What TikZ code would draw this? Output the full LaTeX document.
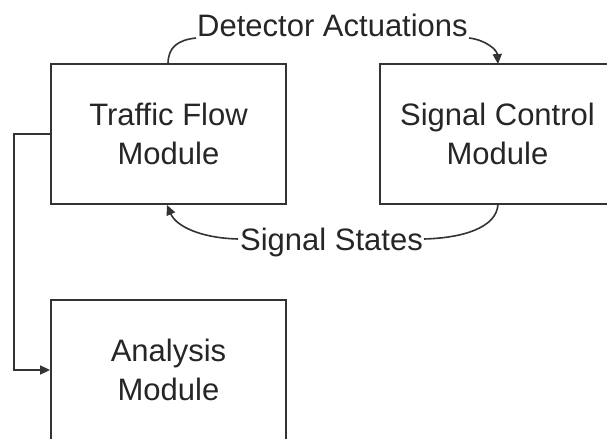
\documentclass[tikz,border=0pt]{standalone}
\usepackage{fontspec}
\setmainfont{Liberation Sans}
\usetikzlibrary{arrows.meta}
\begin{document}
\begin{tikzpicture}[x=0.5pt,y=-0.5pt,
  txt/.style={font=\fontsize{15.5}{19.25}\selectfont, text=black!85},
  module/.style={txt, draw=black!80, line width=0.9pt, minimum width=117.5pt,
    minimum height=70pt, inner sep=0pt, align=center},
  lbl/.style={txt, inner sep=0pt, anchor=base},
  conn/.style={draw=black!80, line width=0.8pt},
  tip/.style={-{Triangle[length=5pt,width=4.5pt]}}]
\useasboundingbox (0,0) rectangle (607,439);

% modules
\node[module] (tfm) at (168.5,134) {Traffic Flow\\Module};
\node[module] (scm) at (497.5,134) {Signal Control\\Module};
\node[module] (ana) at (168.5,370) {Analysis\\Module};

% data labels
\node[lbl] (da) at (332.5,36) {Detector Actuations};
\node[lbl] (ss) at (331.5,250) {Signal States};

% connector end points on the box borders and label edges
\coordinate (da-from) at (168,64);
\coordinate (da-in)   at (196,38);
\coordinate (da-out)  at (469,38);
\coordinate (da-to)   at (498,64);
\coordinate (ss-from) at (498,204);
\coordinate (ss-in)   at (424,239);
\coordinate (ss-out)  at (238,239);
\coordinate (ss-to)   at (167,205);

% detector actuations: traffic flow -> signal control
\draw[conn] (da-from) .. controls (168,47) and (178,40) .. (da-in);
\draw[conn,tip] (da-out) .. controls (486,40) and (497,50) .. (da-to);

% signal states: signal control -> traffic flow
\draw[conn] (ss-from) .. controls (497,228) and (462,238) .. (ss-in);
\draw[conn,tip] (ss-out) .. controls (200,238) and (176,226) .. (ss-to);

% traffic flow -> analysis
\draw[conn,tip] (tfm.west) -- ++(-36,0) |- (ana.west);
\end{tikzpicture}
\end{document}
